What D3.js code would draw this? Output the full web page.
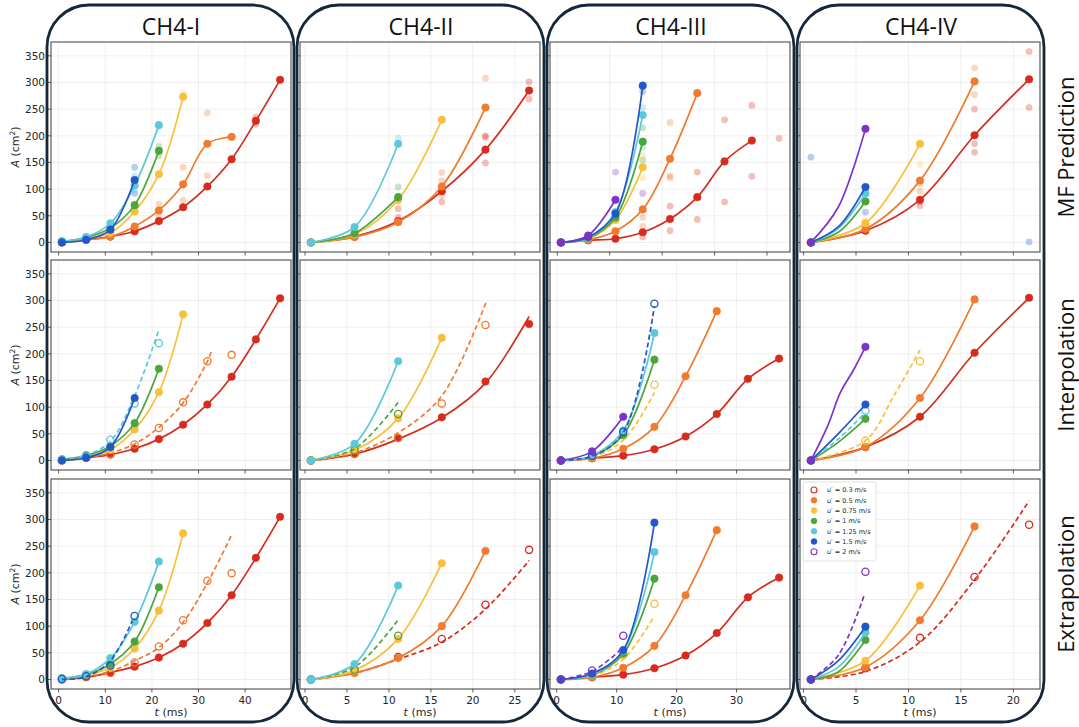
<!DOCTYPE html>
<html>
<head>
<meta charset="utf-8">
<script src="https://cdn.jsdelivr.net/npm/d3@7"></script>
<style>
body { margin: 0; background: #fff; }
text { font-family: "DejaVu Sans", sans-serif; }
</style>
</head>
<body>
<svg id="fig" width="1079" height="727"></svg>
<script>
// sampling times (ms) and turbulence intensities
var times = [0.7, 5.9, 11.1, 16.3, 21.5, 26.7, 31.9, 37.1, 42.3, 47.5];
var speeds = ["0.3", "0.5", "0.75", "1", "1.25", "1.5", "2"];
var colors = ["#d62c1e", "#f07a2e", "#f8bf3a", "#4aa63a", "#5bc8dc", "#2257c8", "#7b34c6"];
var cases = ["CH4-I", "CH4-II", "CH4-III", "CH4-IV"];
var tasks = ["MF Prediction", "Interpolation", "Extrapolation"];

// measured flame area A (cm2) at times[i], one list per u' (null = not run)
var mfI = [[0, 5, 11, 21, 40, 66, 105, 156, 228, 305], [0, 5, 11, 30, 60, 109, 185, 198], [1, 7, 18, 58, 128, 273], [2, 9, 27, 70, 172], [2, 10, 36, 107, 220], [0, 5, 24, 117], null];
var mfII = [[0, 11, 40, 96, 174, 285], [0, 10, 38, 105, 253], [0, 15, 80, 230], [0, 17, 85], [0, 29, 185], null, null];
var mfIII = [[0, 4, 7, 19, 44, 85, 152, 191], [0, 5, 21, 62, 157, 280], [0, 7, 42, 141], [0, 8, 47, 189], [0, 9, 57, 239], [0, 10, 54, 294], [0, 13, 80]];
var mfIV = [[0, 22, 80, 201, 306], [0, 25, 116, 302], [0, 36, 185], [0, 77], [0, 92], [0, 104], [0, 213]];

var inI = [[0, 5, 11, 22, 40, 67, 105, 157, 227, 304], [0, 5, 12, 30, 61, 109, 186, 198], [0, 7, 20, 58, 128, 274], [2, 9, 27, 70, 172], [2, 10, 39, 107, 220], [0, 5, 25, 117], null];
var inII = [[0, 12, 42, 81, 148, 256], [0, 12, 42, 107, 254], [0, 19, 79, 230], [0, 19, 87], [0, 31, 186], null, null];
var inIII = [[0, 4, 9, 21, 45, 87, 153, 191], [0, 4, 22, 63, 158, 280], [0, 8, 47, 142], [0, 8, 48, 189], [0, 9, 56, 239], [0, 9, 54, 294], [0, 17, 82]];
var inIV = [[0, 25, 82, 202, 305], [0, 25, 117, 302], [0, 37, 186], [0, 78], [0, 93], [0, 105], [0, 213]];

var exI = [[0, 4, 13, 24, 41, 67, 106, 158, 228, 305], [0, 5, 12, 32, 62, 111, 185, 199], [0, 8, 22, 58, 129, 274], [2, 9, 29, 71, 173], [2, 10, 40, 108, 221], [1, 6, 26, 119], null];
var exII = [[0, 17, 42, 76, 140, 243], [0, 12, 40, 100, 241], [0, 17, 76, 218], [0, 18, 82], [0, 29, 176], null, null];
var exIII = [[0, 4, 9, 21, 45, 87, 154, 191], [0, 4, 22, 63, 158, 280], [0, 8, 45, 142], [0, 8, 48, 189], [0, 9, 54, 239], [0, 11, 55, 294], [0, 17, 82]];
var exIV = [[0, 21, 78, 192, 290], [0, 23, 111, 287], [0, 35, 176], [0, 74], [0, 88], [0, 99], [0, 202]];

// u' index held out of training in each case
var heldInterp = [[1, 4], [1, 3], [2, 5], [2, 4]];
var heldExtrap = [[1, 5], [0, 3], [2, 6], [0, 6]];

// predicted curves for the held-out u' : [u' index, [[t, A], ...]]
var predInI = [[1, [[0.7, 0], [5.9, 5], [11.1, 14], [16.3, 31], [21.5, 62], [26.7, 108], [31.9, 186], [32.9, 208]]], [4, [[0.7, 2], [5.9, 10], [11.1, 36], [16.3, 121], [21.4, 243]]]];
var predInII = [[1, [[0.7, 0], [5.9, 14], [11.1, 52], [16.3, 121], [21.6, 298]]], [3, [[0.7, 0], [5.9, 22], [11.1, 109]]]];
var predInIII = [[2, [[0.7, 0], [5.9, 6], [11.1, 38], [16.3, 127]]], [5, [[0.7, 0], [5.9, 8], [11.1, 52], [16.3, 290]]]];
var predInIV = [[2, [[0.7, 0], [5.9, 37], [8.6, 121], [11.1, 207]]], [4, [[0.7, 0], [3.3, 40], [5.9, 90]]]];

var predExI = [[1, [[0.7, 0], [5.9, 5], [11.1, 15], [16.3, 35], [21.5, 60], [26.7, 107], [31.9, 181], [37.1, 271]]], [5, [[0.7, 0], [5.9, 5], [11.1, 35], [15.8, 110]]]];
var predExII = [[0, [[0.7, 0], [5.9, 12], [11.1, 38], [16.3, 70], [21.5, 132], [26.7, 223]]], [3, [[0.7, 0], [5.9, 23], [11.1, 112]]]];
var predExIII = [[2, [[0.7, 0], [5.9, 6], [11.1, 38], [16.3, 119]]], [6, [[0.7, 0], [5.9, 15], [10.9, 58]]]];
var predExIV = [[0, [[0.7, 0], [5.9, 15], [11.1, 70], [16.3, 187], [21.5, 335]]], [6, [[0.7, 0], [3.3, 45], [5.8, 159]]]];

// fitted curves that do not pass through the markers
var fitMfIV = [[6, [[0.7, 0], [3.3, 66], [5.9, 213]]], [5, [[0.7, 0], [3.3, 29], [5.9, 104]]], [4, [[0.7, 0], [3.3, 26], [5.9, 92]]], [3, [[0.7, 0], [3.3, 19], [5.9, 77]]]];
var fitInII = [[0, [[0.7, 0], [5.9, 12], [11.1, 40], [16.3, 80], [21.5, 145], [26.7, 270]]]];
var fitInIV = [[6, [[0.7, 0], [2.3, 65], [3.5, 127], [4.8, 171], [5.9, 213]]], [5, [[0.7, 0], [3.3, 50], [5.9, 105]]], [3, [[0.7, 0], [3.3, 34], [5.9, 78]]]];
var fitExIV = [[5, [[0.7, 0], [3.3, 35], [5.9, 99]]], [4, [[0.7, 0], [3.3, 23], [5.9, 88]]], [3, [[0.7, 0], [3.3, 14], [5.9, 74]]]];

// multi-fidelity sample predictions: [u' index, t, A]
var dotsI = [[5, 16.3, 141], [5, 16.3, 92], [4, 16.3, 125], [4, 16.3, 97], [3, 21.5, 180], [3, 21.5, 163], [2, 26.7, 280], [1, 26.7, 141], [1, 21.5, 72], [1, 21.5, 49], [1, 31.9, 243], [1, 31.9, 125], [1, 26.7, 79], [0, 42.3, 235], [0, 42.3, 222]];
var dotsII = [[4, 11.1, 196], [3, 11.1, 104], [2, 11.1, 76], [0, 11.1, 63], [0, 11.1, 47], [1, 16.3, 131], [1, 16.3, 116], [1, 16.3, 88], [0, 16.3, 76], [1, 21.5, 308], [0, 21.5, 200], [0, 21.5, 197], [0, 21.5, 149], [0, 26.7, 301], [0, 26.7, 269]];
var dotsIII = [[6, 11.1, 132], [6, 16.3, 92], [5, 16.3, 283], [4, 16.3, 253], [4, 16.3, 178], [3, 16.3, 215], [3, 16.3, 154], [2, 16.3, 163], [2, 16.3, 121], [1, 16.3, 47], [1, 16.3, 30], [1, 21.5, 225], [1, 21.5, 125], [1, 21.5, 121], [0, 26.7, 132], [0, 21.5, 68], [0, 21.5, 22], [0, 26.7, 43], [0, 31.9, 230], [0, 31.9, 76], [0, 37.1, 257], [0, 37.1, 124], [0, 42.3, 195], [0, 16.3, 10]];
var dotsIV = [[5, 0.7, 160], [5, 5.9, 57], [5, 21.5, 1], [2, 5.9, 41], [2, 11.1, 146], [1, 11.1, 110], [1, 11.1, 96], [0, 11.1, 76], [0, 11.1, 69], [1, 16.3, 327], [1, 16.3, 277], [0, 16.3, 250], [0, 16.3, 185], [0, 16.3, 169], [0, 21.5, 358], [0, 21.5, 253]];

var legendOpen = [0, 6];

// ---- layout ----
var boxX = [51, 300, 550, 800];
var boxY = [42, 260, 479];
var boxW = 240, boxH = 210;

var measured = [[mfI, mfII, mfIII, mfIV], [inI, inII, inIII, inIV], [exI, exII, exIII, exIV]];
var held = [[[], [], [], []], heldInterp, heldExtrap];
var preds = [[[], [], [], []], [predInI, predInII, predInIII, predInIV], [predExI, predExII, predExIII, predExIV]];
var fits = [[[], [], [], fitMfIV], [[], fitInII, [], fitInIV], [[], [], [], fitExIV]];
var dots = [[dotsI, dotsII, dotsIII, dotsIV], [[], [], [], []], [[], [], [], []]];

var svg = d3.select("#fig");

// shared y range over everything drawn
var allA = [];
measured.forEach(function (row) { row.forEach(function (p) { p.forEach(function (s) { if (s) allA = allA.concat(s); }); }); });
dots[0].forEach(function (p) { p.forEach(function (d) { allA.push(d[2]); }); });
var yMin = d3.min(allA), yMax = d3.max(allA);
var yPad = 0.05 * (yMax - yMin);

function framePath(x, y, w, h, r) {
    var p = d3.path();
    p.moveTo(x + r, y);
    p.lineTo(x + w - r, y);
    p.arcTo(x + w, y, x + w, y + r, r);
    p.lineTo(x + w, y + h - r);
    p.arcTo(x + w, y + h, x + w - r, y + h, r);
    p.lineTo(x + r, y + h);
    p.arcTo(x, y + h, x, y + h - r, r);
    p.lineTo(x, y + r);
    p.arcTo(x, y, x + r, y, r);
    p.closePath();
    return p.toString();
}

// column frames and titles
cases.forEach(function (name, c) {
    var fx = 47 + 250 * c;
    svg.append("path")
        .attr("d", framePath(fx, 5, 247, 717, 42))
        .attr("fill", "none")
        .attr("stroke", "#15273a")
        .attr("stroke-width", 2.8);
    svg.append("text")
        .attr("x", fx + 124)
        .attr("y", 35)
        .attr("text-anchor", "middle")
        .style("font-family", "'Open Sans', sans-serif")
        .style("font-size", "23px")
        .attr("fill", "#111")
        .text(name);
});

// row labels
tasks.forEach(function (name, r) {
    var cy = boxY[r] + boxH / 2;
    svg.append("text")
        .attr("transform", "translate(1074," + cy + ") rotate(-90)")
        .attr("text-anchor", "middle")
        .style("font-family", "'Open Sans', sans-serif")
        .style("font-size", "22px")
        .attr("fill", "#111")
        .text(name);
});

for (var r = 0; r < 3; r++) {
    for (var c = 0; c < 4; c++) {
        drawPanel(r, c);
    }
}

function drawPanel(r, c) {
    var vals = measured[r][c];
    var heldOut = held[r][c];
    var pr = preds[r][c];
    var ft = fits[r][c];
    var dt = dots[r][c];

    var ts = [];
    vals.forEach(function (s) { if (s) ts = ts.concat(times.slice(0, s.length)); });
    pr.forEach(function (p) { p[1].forEach(function (d) { ts.push(d[0]); }); });
    dt.forEach(function (d) { ts.push(d[1]); });
    var tMin = d3.min(ts), tMax = d3.max(ts);
    var tPad = 0.05 * (tMax - tMin);

    var x = d3.scaleLinear().domain([tMin - tPad, tMax + tPad]).range([0, boxW]);
    var y = d3.scaleLinear().domain([yMin - yPad, yMax + yPad]).range([boxH, 0]);

    var g = svg.append("g").attr("transform", "translate(" + boxX[c] + "," + boxY[r] + ")");
    g.append("rect").attr("width", boxW).attr("height", boxH).attr("fill", "#fff");

    var xt = x.ticks(5), yt = y.ticks(8);

    g.selectAll(".gx").data(xt).enter().append("line")
        .attr("x1", x).attr("x2", x).attr("y1", 0).attr("y2", boxH)
        .attr("stroke", "#ebebeb").attr("stroke-width", 0.8);
    g.selectAll(".gy").data(yt).enter().append("line")
        .attr("y1", y).attr("y2", y).attr("x1", 0).attr("x2", boxW)
        .attr("stroke", "#ebebeb").attr("stroke-width", 0.8);

    var line = d3.line()
        .x(function (d) { return x(d[0]); })
        .y(function (d) { return y(d[1]); })
        .curve(d3.curveCatmullRom.alpha(0.5));

    // faint MF samples
    g.selectAll(".dot").data(dt).enter().append("circle")
        .attr("cx", function (d) { return x(d[1]); })
        .attr("cy", function (d) { return y(d[2]); })
        .attr("r", 3.4)
        .attr("fill", function (d) { return colors[d[0]]; })
        .attr("opacity", 0.3);

    vals.forEach(function (s, k) {
        if (!s) return;
        var pts = s.map(function (v, i) { return [times[i], v]; });
        var isHeld = heldOut.indexOf(k) > -1;
        if (isHeld) {
            var p = pr.filter(function (q) { return q[0] === k; })[0];
            if (p) {
                g.append("path").attr("d", line(p[1]))
                    .attr("fill", "none").attr("stroke", colors[k])
                    .attr("stroke-width", 1.7).attr("stroke-dasharray", "5,3");
            }
        } else {
            var f = ft.filter(function (q) { return q[0] === k; })[0];
            g.append("path").attr("d", line(f ? f[1] : pts))
                .attr("fill", "none").attr("stroke", colors[k])
                .attr("stroke-width", 1.7);
        }
        g.selectAll(".m" + k).data(pts).enter().append("circle")
            .attr("cx", function (d) { return x(d[0]); })
            .attr("cy", function (d) { return y(d[1]); })
            .attr("r", isHeld ? 3.6 : 3.8)
            .attr("fill", isHeld ? "none" : colors[k])
            .attr("stroke", colors[k])
            .attr("stroke-width", isHeld ? 1.3 : 0.5);
    });

    g.append("rect").attr("width", boxW).attr("height", boxH)
        .attr("fill", "none").attr("stroke", "#5a5a5a").attr("stroke-width", 1.2);

    // ticks
    g.selectAll(".tx").data(xt).enter().append("line")
        .attr("x1", x).attr("x2", x).attr("y1", boxH).attr("y2", boxH + 3.5)
        .attr("stroke", "#333").attr("stroke-width", 0.8);
    g.selectAll(".ty").data(yt).enter().append("line")
        .attr("y1", y).attr("y2", y).attr("x1", 0).attr("x2", -3.5)
        .attr("stroke", "#333").attr("stroke-width", 0.8);

    if (c === 0) {
        g.selectAll(".ly").data(yt).enter().append("text")
            .attr("x", -6).attr("y", function (d) { return y(d) + 3.8; })
            .attr("text-anchor", "end")
            .style("font-size", "10.5px").attr("fill", "#262626")
            .text(function (d) { return d; });
        var yl = g.append("text")
            .attr("transform", "translate(-32," + (boxH / 2) + ") rotate(-90)")
            .attr("text-anchor", "middle")
            .style("font-size", "11px").attr("fill", "#262626");
        yl.append("tspan").style("font-style", "italic").text("A");
        yl.append("tspan").text(" (cm");
        yl.append("tspan").attr("dy", -4).style("font-size", "7.5px").text("2");
        yl.append("tspan").attr("dy", 4).text(")");
    }
    if (r === 2) {
        g.selectAll(".lx").data(xt).enter().append("text")
            .attr("x", x).attr("y", boxH + 15)
            .attr("text-anchor", "middle")
            .style("font-size", "10.5px").attr("fill", "#262626")
            .text(function (d) { return d; });
        var xl = g.append("text")
            .attr("x", boxW / 2).attr("y", boxH + 27)
            .attr("text-anchor", "middle")
            .style("font-size", "11px").attr("fill", "#262626");
        xl.append("tspan").style("font-style", "italic").text("t");
        xl.append("tspan").text(" (ms)");
    }

    if (r === 2 && c === 3) drawLegend(g);
}

function drawLegend(g) {
    var lg = g.append("g").attr("transform", "translate(3,3)");
    lg.append("rect").attr("width", 73).attr("height", 79).attr("rx", 2)
        .attr("fill", "#fff").attr("stroke", "#d9d9d9").attr("stroke-width", 0.8);
    speeds.forEach(function (s, k) {
        var ey = 8 + k * 10.3;
        var open = legendOpen.indexOf(k) > -1;
        lg.append("circle").attr("cx", 11).attr("cy", ey).attr("r", 3)
            .attr("fill", open ? "none" : colors[k])
            .attr("stroke", colors[k]).attr("stroke-width", open ? 1.1 : 0.4);
        var t = lg.append("text").attr("x", 24).attr("y", ey + 2.3)
            .style("font-size", "6.5px").attr("fill", "#262626");
        t.append("tspan").style("font-style", "italic").text("u\u2032");
        t.append("tspan").text(" = " + s + " m/s");
    });
}
</script>
</body>
</html>
